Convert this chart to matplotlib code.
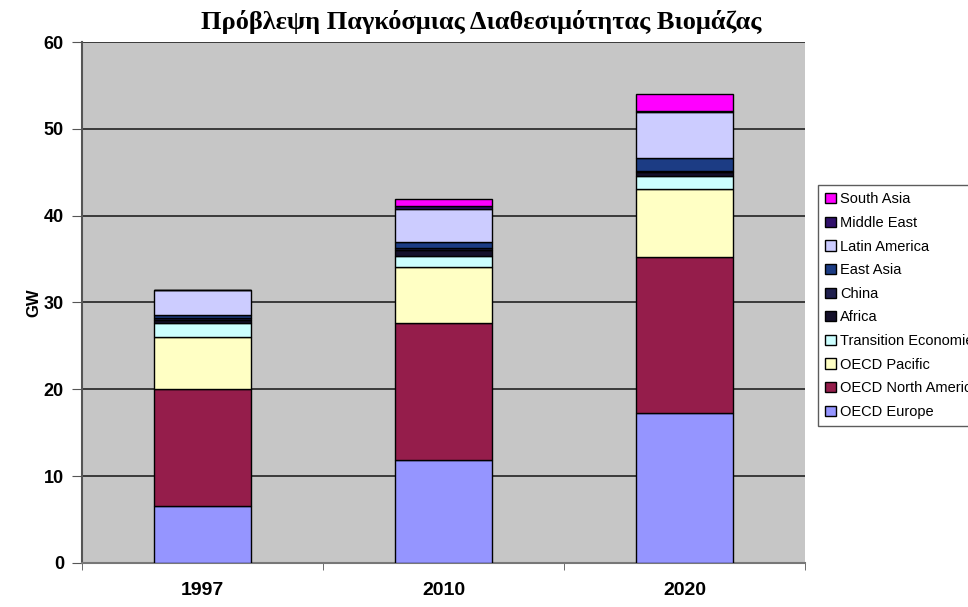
import matplotlib
matplotlib.use("Agg")
import matplotlib.pyplot as plt
import numpy as np

# years and regional biomass availability (GW)
years = ["1997", "2010", "2020"]
oecd_europe = [6.6, 11.9, 17.3]
oecd_north_america = [13.4, 15.7, 17.9]
oecd_pacific = [6.0, 6.5, 7.9]
transition_economies = [1.6, 1.3, 1.5]
africa = [0.4, 0.6, 0.4]
china = [0.2, 0.3, 0.2]
east_asia = [0.4, 0.7, 1.4]
latin_america = [2.8, 3.8, 5.3]
middle_east = [0.0, 0.3, 0.2]
south_asia = [0.0, 0.8, 1.9]

regions = ["OECD Europe", "OECD North America", "OECD Pacific",
           "Transition Economies", "Africa", "China", "East Asia",
           "Latin America", "Middle East", "South Asia"]
series = [oecd_europe, oecd_north_america, oecd_pacific, transition_economies,
          africa, china, east_asia, latin_america, middle_east, south_asia]
colors = ["#9595ff", "#951d4b", "#ffffc4", "#ccffff", "#14102a",
          "#20204e", "#1c3c84", "#ccccff", "#30106a", "#ff00ff"]

fig = plt.figure(figsize=(9.68, 6.07), dpi=100)
ax = fig.add_axes([0.0847, 0.0725, 0.7469, 0.8583])
ax.set_facecolor("#c6c6c6")

x = np.arange(len(years))
bottom = np.zeros(len(years))
handles = []
for name, vals, c in zip(regions, series, colors):
    b = ax.bar(x, vals, width=0.40, bottom=bottom, color=c,
               edgecolor="black", linewidth=1.0, label=name, zorder=3)
    handles.append(b)
    bottom += np.array(vals)

ax.set_xlim(-0.5, 2.5)
ax.set_ylim(0, 60)
ax.set_yticks(range(0, 61, 10))
ax.yaxis.grid(True, color="#3a3a3a", linewidth=1.4, zorder=0)
ax.set_axisbelow(True)

ax.set_xticks(x)
ax.set_xticklabels(years, fontsize=14, fontweight="bold", family="Liberation Sans")
ax.set_xticks([-0.5, 0.5, 1.5, 2.5], minor=True)
ax.tick_params(axis="x", which="major", length=0, pad=14)
ax.tick_params(axis="x", which="minor", length=5, direction="out", color="#555555")
ax.tick_params(axis="y", length=7, color="#555555", labelsize=13, pad=6)
for t in ax.get_yticklabels():
    t.set_fontweight("bold")
    t.set_family("Liberation Sans")

for s in ["top", "right"]:
    ax.spines[s].set_visible(False)
ax.spines["left"].set_color("#555555")
ax.spines["left"].set_linewidth(1.5)
ax.spines["bottom"].set_color("#777777")
ax.spines["bottom"].set_linewidth(1.5)

ax.set_ylabel("GW", fontsize=12, fontweight="bold", family="Liberation Sans", labelpad=2)

fig.text(0.497, 0.964, "Πρόβλεψη Παγκόσμιας Διαθεσιμότητας Βιομάζας",
         ha="center", va="center", fontsize=19, fontweight="bold",
         family="Liberation Serif")

leg = fig.legend(handles[::-1], regions[::-1], loc="upper left",
                 bbox_to_anchor=(818 / 968, 1 - 185 / 607),
                 prop={"family": "Liberation Sans", "size": 10.5},
                 frameon=True, fancybox=False, handlelength=0.7,
                 handleheight=0.7, handletextpad=0.3, labelspacing=0.66,
                 borderpad=0.5, borderaxespad=0)
leg.get_frame().set_edgecolor("#333333")
leg.get_frame().set_linewidth(1.0)

fig.savefig("out.png", dpi=100, facecolor="white")
